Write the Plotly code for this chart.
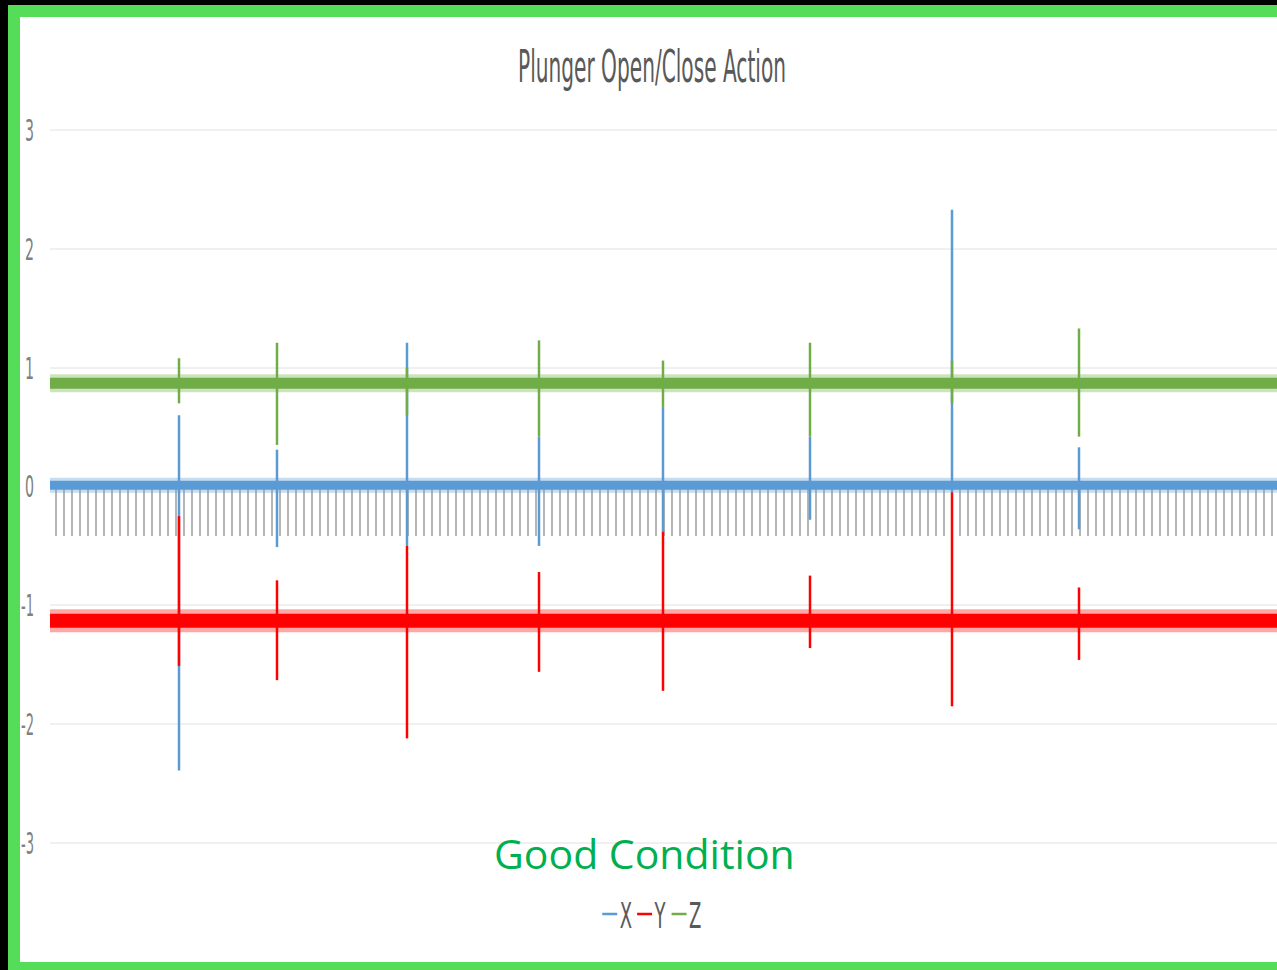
import plotly.graph_objects as go

# ---------------- data ----------------
SERIES = ["X", "Y", "Z"]
SAMPLE_FIRST = 0
SAMPLE_LAST = 1240
# sample index of each plunger open/close event
EVENT_SAMPLE = [129, 227, 357, 489, 613, 760, 902, 1029]
# steady (noise band) level of each axis
X_LEVEL = 0.01
Y_LEVEL = -1.13
Z_LEVEL = 0.87
# peak values reached at each event
X_HIGH = [0.60, 0.31, 1.21, 0.42, 0.67, 0.42, 2.33, 0.33]
X_LOW = [-2.39, -0.51, -0.50, -0.50, -0.38, -0.28, -0.05, -0.36]
Y_HIGH = [-0.25, -0.79, -0.50, -0.72, -0.38, -0.75, -0.05, -0.85]
Y_LOW = [-1.51, -1.63, -2.12, -1.56, -1.72, -1.36, -1.85, -1.46]
Z_HIGH = [1.08, 1.21, 1.00, 1.23, 1.06, 1.21, 1.06, 1.33]
Z_LOW = [0.70, 0.35, 0.60, 0.42, 0.67, 0.42, 0.70, 0.42]

Y_TICKS = [-3, -2, -1, 0, 1, 2, 3]
Y_TICK_TEXT = ["-3", "-2", "-1", "0", "1", "2", "3"]

TITLE = "Plunger Open/Close Action"
NOTE = "Good Condition"

# ---------------- styling ----------------
W, H = 1277, 970
ML, MR, MT, MB = 50, 0, 100, 100
UNIT = 118.8       # px per y unit
ZERO_PX = 486.5    # pixel row of y = 0
Y_MAX = (ZERO_PX - MT) / UNIT
Y_MIN = (ZERO_PX - (H - MB)) / UNIT
PW, PH = W - ML - MR, H - MT - MB

FONT = "DejaVu Sans, sans-serif"
COLORS = {"X": "#5b9bd5", "Y": "#ff0000", "Z": "#70ad47"}
HALO = {"X": "rgba(91,155,213,0.35)", "Y": "rgba(255,0,0,0.35)", "Z": "rgba(112,173,71,0.35)"}
CORE_W = {"X": 9, "Y": 14, "Z": 11}
HALO_W = {"X": 15, "Y": 23, "Z": 18}

levels = {"X": X_LEVEL, "Y": Y_LEVEL, "Z": Z_LEVEL}
highs = {"X": X_HIGH, "Y": Y_HIGH, "Z": Z_HIGH}
lows = {"X": X_LOW, "Y": Y_LOW, "Z": Z_LOW}


def px_x(p):
    return (p - ML) / PW


def px_y(p):
    return (H - MB - p) / PH


fig = go.Figure()

for s in SERIES:
    lvl = levels[s]
    # noise band: halo + core
    fig.add_trace(go.Scatter(x=[SAMPLE_FIRST, SAMPLE_LAST], y=[lvl, lvl], mode="lines",
                             line=dict(color=HALO[s], width=HALO_W[s]),
                             showlegend=False, hoverinfo="skip", legendgroup=s))
    fig.add_trace(go.Scatter(x=[SAMPLE_FIRST, SAMPLE_LAST], y=[lvl, lvl], mode="lines",
                             line=dict(color=COLORS[s], width=CORE_W[s]),
                             showlegend=False, hoverinfo="skip", legendgroup=s))
    # event spikes
    xs, ys = [], []
    for t, hi, lo in zip(EVENT_SAMPLE, highs[s], lows[s]):
        xs += [t, t, None]
        ys += [hi, lo, None]
    fig.add_trace(go.Scatter(x=xs, y=ys, mode="lines", name=s, legendgroup=s,
                             line=dict(color=COLORS[s], width=2.5),
                             connectgaps=False))

fig.update_layout(
    width=W, height=H,
    margin=dict(l=ML, r=MR, t=MT, b=MB, autoexpand=False),
    paper_bgcolor="#000000",
    plot_bgcolor="#ffffff",
    title=dict(text=TITLE, x=652 / W, xref="container", xanchor="center",
               y=1 - 67 / H, yref="container", yanchor="middle",
               font=dict(family=FONT, size=44, color="#595959")),
    showlegend=True,
    legend=dict(orientation="h", xref="container", yref="container",
                x=652 / W, xanchor="center", y=1 - 914 / H, yanchor="middle",
                bgcolor="rgba(0,0,0,0)", itemwidth=30, tracegroupgap=0,
                font=dict(family=FONT, size=36, color="#595959")),
    xaxis=dict(range=[0, PW], anchor="free", position=(0 - Y_MIN) / (Y_MAX - Y_MIN),
               showgrid=False, zeroline=False, showline=True, linecolor="#d9d9d9",
               ticks="outside", ticklen=48, tickwidth=1.5, tickcolor="rgba(90,90,90,0.45)",
               tick0=6, dtick=8, showticklabels=False, layer="below traces"),
    yaxis=dict(range=[Y_MIN, Y_MAX], tickvals=Y_TICKS, ticktext=Y_TICK_TEXT,
               showgrid=True, gridcolor="#f0f0f0", gridwidth=2, zeroline=False,
               showline=False, ticks="", ticklabelstandoff=15,
               tickfont=dict(family=FONT, size=31, color="#808080")),
    shapes=[
        dict(type="rect", xref="paper", yref="paper", layer="below",
             x0=px_x(8), x1=px_x(1300), y0=px_y(990), y1=px_y(5),
             fillcolor="#55dd5a", line=dict(width=0)),
        dict(type="rect", xref="paper", yref="paper", layer="below",
             x0=px_x(20), x1=px_x(1300), y0=px_y(962), y1=px_y(17),
             fillcolor="#ffffff", line=dict(width=0)),
    ],
    annotations=[
        dict(text=NOTE, xref="paper", yref="paper", x=px_x(644), y=px_y(853),
             xanchor="center", yanchor="middle", showarrow=False,
             font=dict(family="Open Sans, Noto Sans, sans-serif", size=41, color="#00b050")),
    ],
)

# The reference chart's grey text is horizontally compressed; squeeze the
# rendered SVG text the same way once the figure has been drawn.
POST = r"""
(function(){
  document.body.style.margin='0px';
  document.body.style.overflow='hidden';
  var gd = document.querySelector('.js-plotly-plot');
  if (!gd) return;
  function sq(el, w){ el.setAttribute('textLength', String(w)); el.setAttribute('lengthAdjust', 'spacingAndGlyphs'); }
  var t = gd.querySelector('.gtitle');
  if (t) sq(t, 268);
  gd.querySelectorAll('.ytick text').forEach(function(e){
    sq(e, e.textContent.length > 1 ? 13 : 9);
  });
  var lg = gd.querySelector('g.legend');
  if (lg) {
    var bb = lg.getBBox();
    var tr = lg.getAttribute('transform') || '';
    var m = /translate\(\s*([-\d.e]+)[\s,]+([-\d.e]+)\s*\)/.exec(tr);
    if (m) {
      var s = 0.5;
      var x0 = parseFloat(m[1]), y0 = parseFloat(m[2]);
      var cx = x0 + bb.x + bb.width / 2;
      var nx = cx - (bb.x + bb.width / 2) * s;
      lg.setAttribute('transform', 'translate(' + nx + ',' + y0 + ') scale(' + s + ',1)');
    }
  }
})();
"""

fig.write_html("out.html", config={"displayModeBar": False}, post_script=POST)
